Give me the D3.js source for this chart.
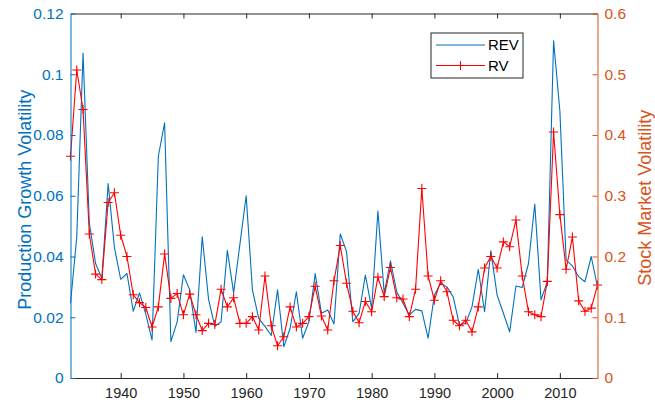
<!DOCTYPE html>
<html>
<head>
<meta charset="utf-8">
<script src="https://cdn.jsdelivr.net/npm/d3@7"></script>
<style>
  html, body { margin: 0; padding: 0; background: #fff; }
  svg { display: block; font-family: "Liberation Sans", Arial, Helvetica, sans-serif; }
</style>
</head>
<body>
<svg id="chart" width="655" height="402"></svg>
<script>
// ---------------- data ----------------
const years = d3.range(1932, 2017);
const rev = [
  0.0246, 0.0465, 0.107, 0.051, 0.0377, 0.0328, 0.064, 0.043, 0.0325, 0.0344,
  0.022, 0.028, 0.021, 0.0125, 0.073, 0.084, 0.012, 0.0185, 0.034, 0.029,
  0.015, 0.0465, 0.026, 0.017, 0.0185, 0.042, 0.028, 0.044, 0.060, 0.029,
  0.0196, 0.017, 0.014, 0.029, 0.0103, 0.0163, 0.0284, 0.0131, 0.0185, 0.0344,
  0.0213, 0.0224, 0.0178, 0.0474, 0.0416, 0.0185, 0.0213, 0.0339, 0.0229, 0.055,
  0.0279, 0.0386, 0.0284, 0.0246, 0.0207, 0.0226, 0.0221, 0.0131, 0.0273, 0.0312,
  0.030, 0.0267, 0.0174, 0.018, 0.0235, 0.0358, 0.0218, 0.0419, 0.0273, 0.0213,
  0.0152, 0.0303, 0.0298, 0.0377, 0.0573, 0.0257, 0.0317, 0.111, 0.088, 0.0388,
  0.0369, 0.0333, 0.0317, 0.040, 0.030
];
const rv = [
  0.365, 0.507, 0.442, 0.237, 0.171, 0.162, 0.289, 0.305, 0.235, 0.200,
  0.137, 0.124, 0.116, 0.084, 0.117, 0.204, 0.131, 0.139, 0.104, 0.138,
  0.104, 0.078, 0.090, 0.088, 0.146, 0.117, 0.132, 0.090, 0.090, 0.101,
  0.079, 0.168, 0.086, 0.053, 0.068, 0.117, 0.084, 0.090, 0.101, 0.151,
  0.102, 0.079, 0.160, 0.218, 0.156, 0.110, 0.091, 0.126, 0.109, 0.166,
  0.134, 0.182, 0.132, 0.130, 0.101, 0.146, 0.312, 0.168, 0.128, 0.160,
  0.142, 0.095, 0.086, 0.095, 0.076, 0.117, 0.181, 0.200, 0.181, 0.224,
  0.216, 0.260, 0.168, 0.109, 0.104, 0.101, 0.159, 0.405, 0.269, 0.179,
  0.232, 0.127, 0.110, 0.115, 0.153
];
const xTicks = [1940, 1950, 1960, 1970, 1980, 1990, 2000, 2010];
const leftTicks = [0, 0.02, 0.04, 0.06, 0.08, 0.1, 0.12];
const rightTicks = [0, 0.1, 0.2, 0.3, 0.4, 0.5, 0.6];
const seriesNames = ["REV", "RV"];

// ---------------- layout ----------------
const L = 70.5, R = 597.5, T = 13.5, B = 378;
const BLUE = "#0072BD", ORANGE = "#D95319", RED = "#FF0000", AX = "#262626";

const svg = d3.select("#chart");
const x = d3.scaleLinear().domain([1932, 2016]).range([L, R]);
const yL = d3.scaleLinear().domain([0, 0.12]).range([B, T]);
const yR = d3.scaleLinear().domain([0, 0.6]).range([B, T]);
const fmt = d => String(+d.toFixed(2));

// series
const lineL = d3.line().x((d, i) => x(years[i])).y(d => yL(d));
const lineR = d3.line().x((d, i) => x(years[i])).y(d => yR(d));

svg.append("path").datum(rev)
  .attr("d", lineL).attr("fill", "none")
  .attr("stroke", BLUE).attr("stroke-width", 1.1).attr("stroke-linejoin", "round");

svg.append("path").datum(rv)
  .attr("d", lineR).attr("fill", "none")
  .attr("stroke", RED).attr("stroke-width", 1.1).attr("stroke-linejoin", "round");

const m = 4.5;
const plus = (cx, cy) => `M${cx - m},${cy}H${cx + m}M${cx},${cy - m}V${cy + m}`;
svg.append("path")
  .attr("d", rv.map((d, i) => plus(x(years[i]), yR(d))).join(""))
  .attr("fill", "none").attr("stroke", RED).attr("stroke-width", 1.1);

// axes
const gB = svg.append("g").attr("transform", `translate(0,${B})`)
  .call(d3.axisBottom(x).tickValues(xTicks).tickFormat(d3.format("d"))
    .tickSize(-5).tickSizeOuter(0).tickPadding(10));
gB.select(".domain").attr("stroke", AX);
gB.selectAll(".tick line").attr("stroke", AX);
gB.selectAll("text").attr("fill", AX).style("font-size", "14.5px");

const gT = svg.append("g").attr("transform", `translate(0,${T})`)
  .call(d3.axisTop(x).tickValues(xTicks).tickFormat("")
    .tickSize(-5).tickSizeOuter(0));
gT.select(".domain").attr("stroke", AX);
gT.selectAll(".tick line").attr("stroke", AX);

const gL = svg.append("g").attr("transform", `translate(${L},0)`)
  .call(d3.axisLeft(yL).tickValues(leftTicks).tickFormat(fmt)
    .tickSize(-5).tickSizeOuter(0).tickPadding(7));
gL.select(".domain").attr("stroke", BLUE);
gL.selectAll(".tick line").attr("stroke", BLUE);
gL.selectAll("text").attr("fill", BLUE).style("font-size", "15.5px");

const gR = svg.append("g").attr("transform", `translate(${R},0)`)
  .call(d3.axisRight(yR).tickValues(rightTicks).tickFormat(fmt)
    .tickSize(-5).tickSizeOuter(0).tickPadding(7));
gR.select(".domain").attr("stroke", ORANGE);
gR.selectAll(".tick line").attr("stroke", ORANGE);
gR.selectAll("text").attr("fill", ORANGE).style("font-size", "15.5px");

svg.selectAll(".domain").attr("stroke-width", 1);

// axis titles
svg.append("text")
  .attr("transform", `translate(31,${(T + B) / 2 + 4}) rotate(-90)`)
  .attr("text-anchor", "middle").attr("fill", BLUE)
  .style("font-size", "18px").text("Production Growth Volatility");

svg.append("text")
  .attr("transform", `translate(651,${(T + B) / 2 + 2}) rotate(-90)`)
  .attr("text-anchor", "middle").attr("fill", ORANGE)
  .style("font-size", "18px").text("Stock Market Volatility");

// legend
const lg = svg.append("g").attr("transform", "translate(431,33)");
lg.append("rect").attr("width", 92).attr("height", 45)
  .attr("fill", "#fff").attr("stroke", AX).attr("stroke-width", 1);
lg.append("line").attr("x1", 5).attr("x2", 54).attr("y1", 12).attr("y2", 12)
  .attr("stroke", BLUE).attr("stroke-width", 1.1);
lg.append("line").attr("x1", 5).attr("x2", 54).attr("y1", 32.5).attr("y2", 32.5)
  .attr("stroke", RED).attr("stroke-width", 1.1);
lg.append("path").attr("d", plus(29.5, 32.5)).attr("stroke", RED).attr("stroke-width", 1.1);
lg.selectAll("text.lab").data(seriesNames).join("text")
  .attr("class", "lab")
  .attr("x", 57).attr("y", (d, i) => 12 + i * 20.5)
  .attr("dy", "0.35em").attr("fill", "#000")
  .style("font-size", "15px").text(d => d);
</script>
</body>
</html>
